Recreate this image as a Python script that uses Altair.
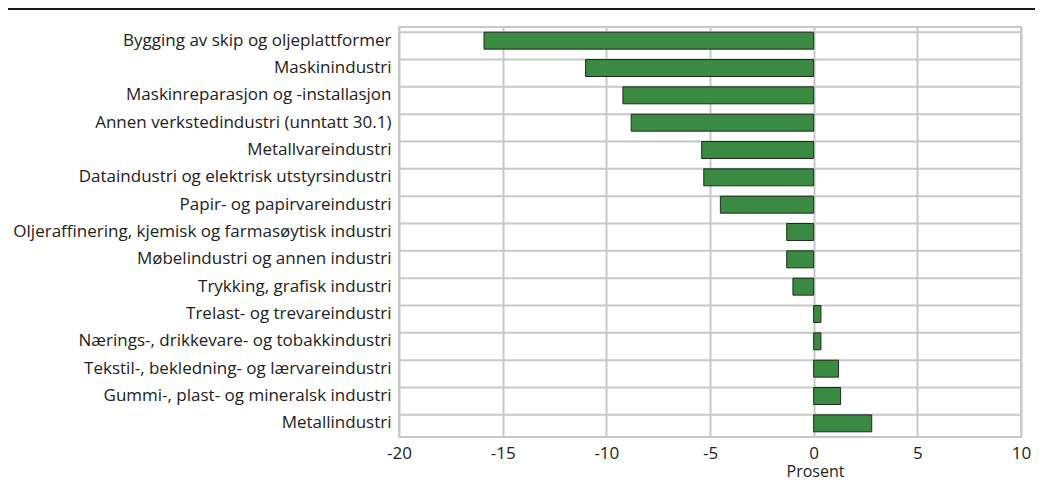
import altair as alt
import pandas as pd

categories = [
    "Bygging av skip og oljeplattformer",
    "Maskinindustri",
    "Maskinreparasjon og -installasjon",
    "Annen verkstedindustri (unntatt 30.1)",
    "Metallvareindustri",
    "Dataindustri og elektrisk utstyrsindustri",
    "Papir- og papirvareindustri",
    "Oljeraffinering, kjemisk og farmasøytisk industri",
    "Møbelindustri og annen industri",
    "Trykking, grafisk industri",
    "Trelast- og trevareindustri",
    "Nærings-, drikkevare- og tobakkindustri",
    "Tekstil-, bekledning- og lærvareindustri",
    "Gummi-, plast- og mineralsk industri",
    "Metallindustri",
]
values = [-15.9, -11.0, -9.2, -8.8, -5.4, -5.3, -4.5, -1.3, -1.3, -1.0, 0.35, 0.35, 1.2, 1.3, 2.8]
x_ticks = [-20, -15, -10, -5, 0, 5, 10]

df = pd.DataFrame({"kategori": categories, "verdi": values})

W, H = 622, 410
FONT = "Open Sans"
GRID = "#c8c8c8"
TXT = "#222222"

yscale = alt.Scale(domain=categories, paddingInner=0.38, paddingOuter=0.19)
xscale = alt.Scale(domain=[-20, 10], nice=False)

bars = alt.Chart(df).mark_bar(
    color="#3a8a41", stroke="#1e2a1e", strokeWidth=1
).encode(
    y=alt.Y("kategori:N", sort=categories, scale=yscale,
            axis=alt.Axis(title=None, labelFont=FONT, labelFontSize=17,
                          labelColor=TXT, ticks=False, domain=False,
                          grid=False, labelPadding=8, labelLimit=420)),
    x=alt.X("verdi:Q", scale=xscale,
            axis=alt.Axis(values=x_ticks, title="Prosent", titleFont=FONT,
                          titleFontSize=16, titleFontWeight="normal",
                          titleColor=TXT, titleX=416, titlePadding=2,
                          labelFont=FONT, labelFontSize=17, labelColor=TXT,
                          labelExpr="'' + datum.value",
                          ticks=False, domain=False, grid=True, gridColor=GRID,
                          gridWidth=2, labelPadding=8, labelFlush=False)),
    x2=alt.datum(0),
)

hlines = alt.Chart(df).mark_rule(color=GRID, strokeWidth=2).encode(
    y=alt.Y("kategori:N", sort=categories, scale=yscale, bandPosition=0),
    x=alt.value(0),
    x2=alt.value(W),
)

topline = alt.Chart(df.head(1)).mark_rule(color="#1a1a1a", strokeWidth=2, clip=False).encode(
    y=alt.value(-18),
    x=alt.value(-399),
    x2=alt.value(1043 - 399),
)

chart = alt.layer(hlines, bars, topline).properties(
    width=W, height=H,
    autosize=alt.AutoSizeParams(type="none"),
    padding={"left": 391, "top": 19, "right": 14, "bottom": 50},
).configure_view(stroke=GRID, strokeWidth=2)

chart.save("out.html", embed_options={"renderer": "svg", "actions": False})
